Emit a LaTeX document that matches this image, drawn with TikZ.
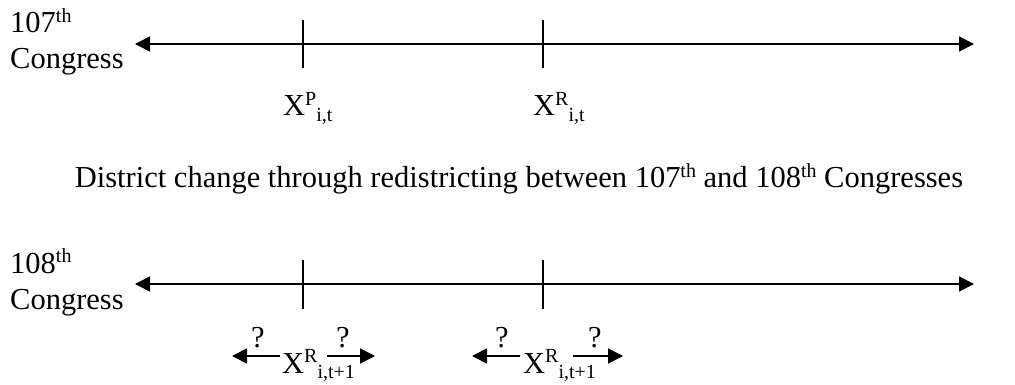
\documentclass[tikz,border=0pt]{standalone}
\usepackage{fontspec}
\setmainfont{Liberation Serif}
\usetikzlibrary{arrows.meta}
\newcommand{\mysup}[1]{\raisebox{0.36em}{\fontsize{20}{20}\selectfont #1}}
\newcommand{\mysub}[1]{\raisebox{-0.19em}{\fontsize{20}{20}\selectfont #1}}
\begin{document}
\begin{tikzpicture}[x=1pt,y=1pt,
  lbl/.style={inner sep=0pt,anchor=base west,font=\fontsize{30.5}{36}\selectfont},
  cen/.style={inner sep=0pt,anchor=base,font=\fontsize{30.5}{36}\selectfont},
  axis/.style={line width=1.7pt,{Triangle[length=15pt,width=15pt]}-{Triangle[length=15pt,width=15pt]}},
  tick/.style={line width=1.7pt},
  small/.style={line width=1.7pt,-{Triangle[length=15pt,width=15pt]}}]
\useasboundingbox (0,0) rectangle (1015,-385);
% top axis
\coordinate (L1) at (135,-44);
\coordinate (R1) at (974,-44);
\draw[axis] (L1) -- (R1);
\coordinate (t1a) at (303,-20); \coordinate (t1b) at (303,-68);
\coordinate (t2a) at (543,-20); \coordinate (t2b) at (543,-68);
\draw[tick] (t1a) -- (t1b);
\draw[tick] (t2a) -- (t2b);
\node[lbl] (c107) at (10,-33) {107\mysup{th}};
\node[lbl] (cg1) at (10,-69) {Congress};
\node[lbl] (xp) at (283,-116) {X\mysup{P}\mysub{i,t}};
\node[lbl] (xr) at (533,-116) {X\mysup{R}\mysub{i,t}};
% middle text
\node[cen] (mid) at (519,-188) {District change through redistricting between 107\mysup{th} and 108\mysup{th} Congresses};
% bottom axis
\coordinate (L2) at (135,-284);
\coordinate (R2) at (974,-284);
\draw[axis] (L2) -- (R2);
\coordinate (t3a) at (303,-260); \coordinate (t3b) at (303,-309);
\coordinate (t4a) at (543,-260); \coordinate (t4b) at (543,-309);
\draw[tick] (t3a) -- (t3b);
\draw[tick] (t4a) -- (t4b);
\node[lbl] (c108) at (10,-273) {108\mysup{th}};
\node[lbl] (cg2) at (10,-309) {Congress};
% bottom labels
\node[lbl] (xr1) at (282,-373) {X\mysup{R}\mysub{i,t+1}};
\node[lbl] (xr2) at (523,-373) {X\mysup{R}\mysub{i,t+1}};
\coordinate (a1s) at (280,-356); \coordinate (a1e) at (232,-356);
\coordinate (a2s) at (327,-356); \coordinate (a2e) at (375,-356);
\coordinate (a3s) at (520,-356); \coordinate (a3e) at (472,-356);
\coordinate (a4s) at (573,-356); \coordinate (a4e) at (623,-356);
\draw[small] (a1s) -- (a1e);
\draw[small] (a2s) -- (a2e);
\draw[small] (a3s) -- (a3e);
\draw[small] (a4s) -- (a4e);
\node[cen] (q1) at (258,-347) {?};
\node[cen] (q2) at (343,-347) {?};
\node[cen] (q3) at (502,-347) {?};
\node[cen] (q4) at (595,-347) {?};
\end{tikzpicture}
\end{document}
